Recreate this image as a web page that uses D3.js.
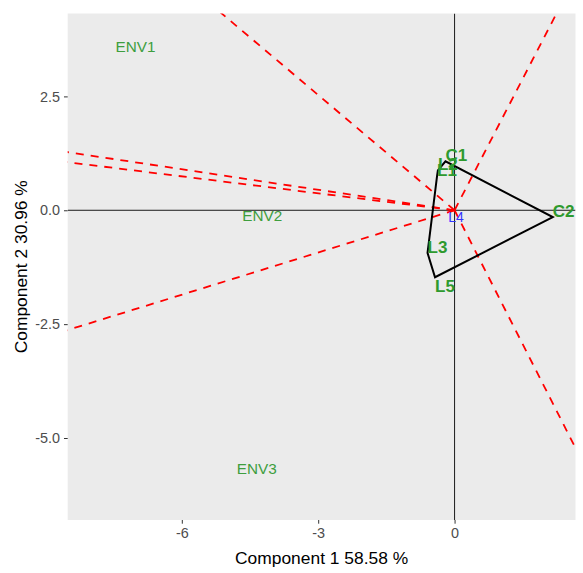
<!DOCTYPE html>
<html>
<head>
<meta charset="utf-8">
<script src="https://cdn.jsdelivr.net/npm/d3@7"></script>
<style>
body { margin: 0; background: #fff; }
text { font-family: Arial, "Liberation Sans", sans-serif; }
</style>
</head>
<body>
<div id="chart"></div>
<script>
// genotype scores (PC1, PC2)
var genotypes = ["C1", "C2", "L1", "L2", "L3", "L4", "L5"];
var genPC1 = [-0.200, 2.16, -0.385, -0.367, -0.595, -0.14, -0.43];
var genPC2 = [1.075, -0.15, 0.757, 0.877, -0.936, -0.26, -1.47];

// environment scores
var environments = ["ENV1", "ENV2", "ENV3"];
var envPC1 = [-6.58, -3.79, -3.91];
var envPC2 = [3.48, -0.24, -5.51];

var xTicks = [-6, -3, 0];
var yTicks = [2.5, 0, -2.5, -5];
var xTitle = "Component 1 58.58 %";
var yTitle = "Component 2 30.96 %";

var width = 583, height = 573;
var panel = {left: 67.7, right: 575.5, top: 13.5, bottom: 520};

var x = d3.scaleLinear().domain([-8.51, 2.66]).range([panel.left, panel.right]);
var y = d3.scaleLinear().domain([-6.8, 4.32]).range([panel.bottom, panel.top]);

var svg = d3.select("#chart").append("svg")
    .attr("width", width)
    .attr("height", height);

svg.append("defs").append("clipPath").attr("id", "clip")
  .append("rect")
    .attr("x", panel.left).attr("y", panel.top)
    .attr("width", panel.right - panel.left)
    .attr("height", panel.bottom - panel.top);

svg.append("rect")
    .attr("x", panel.left).attr("y", panel.top)
    .attr("width", panel.right - panel.left)
    .attr("height", panel.bottom - panel.top)
    .attr("fill", "#EBEBEB");

var gen = genotypes.map(function(d, i) {
    return {name: d, x: genPC1[i], y: genPC2[i]};
});
var env = environments.map(function(d, i) {
    return {name: d, x: envPC1[i], y: envPC2[i]};
});

// convex hull of genotypes
var hull = d3.polygonHull(gen.map(function(d) { return [d.x, d.y]; }));
var onHull = function(d) {
    return hull.some(function(p) { return p[0] === d.x && p[1] === d.y; });
};

// rays: perpendicular from origin to each side of the hull
var rays = [];
hull.forEach(function(a, i) {
    var b = hull[(i + 1) % hull.length];
    var dx = b[0] - a[0], dy = b[1] - a[1];
    var t = -(a[0] * dx + a[1] * dy) / (dx * dx + dy * dy);
    var fx = a[0] + t * dx, fy = a[1] + t * dy;
    var len = Math.sqrt(fx * fx + fy * fy);
    rays.push([fx / len * 30, fy / len * 30]);
});

var plot = svg.append("g").attr("clip-path", "url(#clip)");

// axis lines through origin
plot.append("line")
    .attr("x1", panel.left).attr("x2", panel.right)
    .attr("y1", y(0)).attr("y2", y(0))
    .attr("stroke", "#1a1a1a").attr("stroke-width", 1);
plot.append("line")
    .attr("x1", x(0)).attr("x2", x(0))
    .attr("y1", panel.top).attr("y2", panel.bottom)
    .attr("stroke", "#1a1a1a").attr("stroke-width", 1);

plot.selectAll(".ray")
    .data(rays)
    .enter().append("line")
    .attr("class", "ray")
    .attr("x1", x(0)).attr("y1", y(0))
    .attr("x2", function(d) { return x(d[0]); })
    .attr("y2", function(d) { return y(d[1]); })
    .attr("stroke", "#FF0000")
    .attr("stroke-width", 1.8)
    .attr("stroke-dasharray", "8,7");

plot.append("path")
    .datum(hull)
    .attr("d", function(d) {
        return "M" + d.map(function(p) { return x(p[0]) + "," + y(p[1]); }).join("L") + "Z";
    })
    .attr("fill", "none")
    .attr("stroke", "#000")
    .attr("stroke-width", 2);

// labels justified away from the panel centre
var xc = d3.mean(x.domain()), yc = d3.mean(y.domain());
function placeLabel(sel) {
    sel.attr("x", function(d) { return x(d.x); })
        .attr("y", function(d) { return y(d.y); })
        .attr("text-anchor", function(d) { return d.x > xc ? "start" : "end"; })
        .attr("dy", function(d) { return d.y > yc ? "0em" : "0.85em"; })
        .text(function(d) { return d.name; });
}

plot.selectAll(".env")
    .data(env)
    .enter().append("text")
    .attr("class", "env")
    .call(placeLabel)
    .attr("font-size", "15.3px")
    .attr("fill", "#3E9E3E");

plot.selectAll(".gen")
    .data(gen)
    .enter().append("text")
    .attr("class", "gen")
    .call(placeLabel)
    .attr("font-size", function(d) { return onHull(d) ? "17px" : "14px"; })
    .attr("font-weight", function(d) { return onHull(d) ? "bold" : "normal"; })
    .attr("fill", function(d) { return onHull(d) ? "#2E9A2E" : "#3333FF"; });

// axes
var xAxis = svg.append("g")
    .attr("transform", "translate(0," + panel.bottom + ")")
    .call(d3.axisBottom(x).tickValues(xTicks).tickSize(3.7).tickPadding(4)
        .tickFormat(function(d) { return String(d); }));
var yAxis = svg.append("g")
    .attr("transform", "translate(" + panel.left + ",0)")
    .call(d3.axisLeft(y).tickValues(yTicks).tickSize(3.7).tickPadding(4)
        .tickFormat(function(d) { return d.toFixed(1); }));

[xAxis, yAxis].forEach(function(a) {
    a.select(".domain").remove();
    a.selectAll(".tick line").attr("stroke", "#333");
    a.selectAll(".tick text")
        .attr("fill", "#4D4D4D")
        .attr("font-size", "14.4px")
        .attr("font-family", "Arial, 'Liberation Sans', sans-serif");
});

svg.append("text")
    .attr("x", (panel.left + panel.right) / 2)
    .attr("y", 564)
    .attr("text-anchor", "middle")
    .attr("font-size", "17.4px")
    .attr("fill", "#000")
    .text(xTitle);

svg.append("text")
    .attr("transform", "translate(27," + (panel.top + panel.bottom) / 2 + ") rotate(-90)")
    .attr("text-anchor", "middle")
    .attr("font-size", "17.4px")
    .attr("fill", "#000")
    .text(yTitle);
</script>
</body>
</html>
